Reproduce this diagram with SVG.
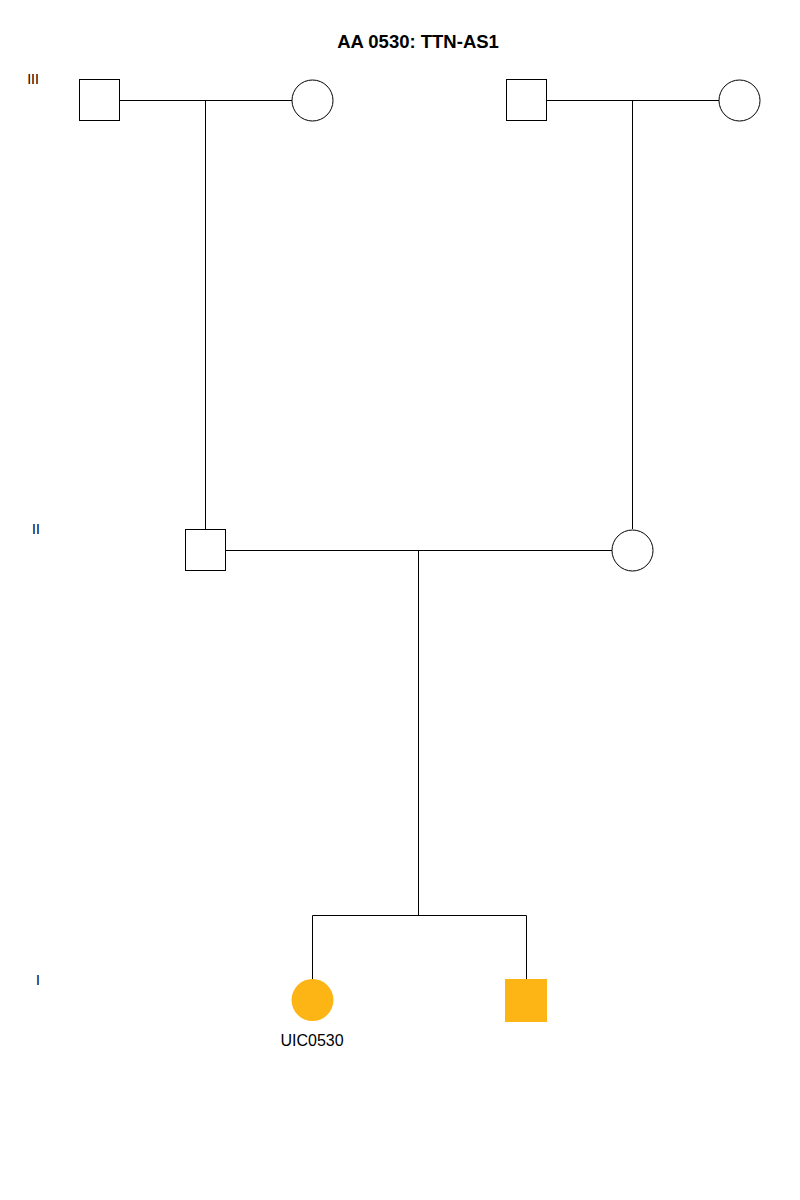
<svg xmlns="http://www.w3.org/2000/svg" width="800" height="1200" viewBox="0 0 800 1200">
<style>
.node{fill:#fff;stroke:#000;stroke-width:1}
.aff{fill:#FDB515;stroke:none}
.ln{stroke:#000;stroke-width:1;fill:none}
.gen{font-family:"Liberation Sans",Arial,sans-serif;font-size:14px;fill:#000}
.lbl{font-family:"Liberation Sans",Arial,sans-serif;font-size:16px;fill:#000}
.title{font-family:"Liberation Sans",Arial,sans-serif;font-size:18.5px;font-weight:bold;fill:#000}
</style>
<rect width="800" height="1200" fill="#fff"/>
<text class="title" x="418" y="48" text-anchor="middle">AA 0530: TTN-AS1</text>
<text class="gen" x="33" y="84" text-anchor="middle">III</text>
<text class="gen" x="36" y="534" text-anchor="middle">II</text>
<text class="gen" x="38" y="985" text-anchor="middle">I</text>
<g id="connectors">
<path class="ln" d="M119.5,100.5H292"/>
<path class="ln" d="M205.5,100.5V529"/>
<path class="ln" d="M546.5,100.5H719"/>
<path class="ln" d="M632.5,100.5V529"/>
<path class="ln" d="M225.5,550.5H612"/>
<path class="ln" d="M418.5,550.5V915.5"/>
<path class="ln" d="M312.5,979V915.5H526.5V979"/>
</g>
<g id="n1"><rect class="node" x="79.5" y="79.5" width="40" height="41"/></g>
<g id="n2"><circle class="node" cx="312.5" cy="100.5" r="20.5"/></g>
<g id="n3"><rect class="node" x="506.5" y="79.5" width="40" height="41"/></g>
<g id="n4"><circle class="node" cx="739.5" cy="100.5" r="20.5"/></g>
<g id="n5"><rect class="node" x="185.5" y="529.5" width="40" height="41"/></g>
<g id="n6"><circle class="node" cx="632.5" cy="550.5" r="20.5"/></g>
<g id="n7"><circle class="aff" cx="312.5" cy="1000" r="21"/><text class="lbl" x="312" y="1046" text-anchor="middle">UIC0530</text></g>
<g id="n8"><rect class="aff" x="505" y="979" width="42" height="43"/></g>
</svg>
